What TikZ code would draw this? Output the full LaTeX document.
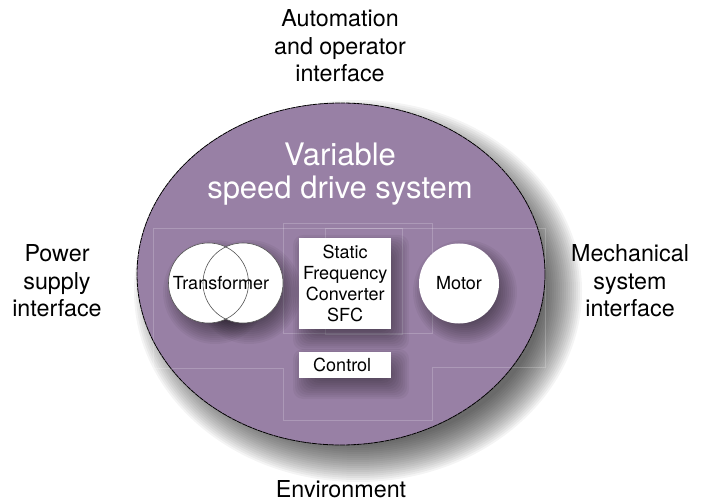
\documentclass[tikz,border=0pt]{standalone}
\usepackage{fontspec}
\setmainfont{TeX Gyre Heros}
\definecolor{sysfill}{HTML}{9880A5}
\definecolor{edgegray}{HTML}{555555}
\begin{document}
\begin{tikzpicture}[x=1pt,y=-1pt,
  lbl/.style={font=\fontsize{23.3}{27.5}\selectfont, align=center, inner sep=0pt},
  titletext/.style={font=\fontsize{31}{33}\selectfont, align=center, text=white, inner sep=0pt},
  smalltext/.style={font=\fontsize{18}{21}\selectfont, align=center, inner sep=0pt},
  faint/.style={draw=white, draw opacity=0.2, line width=0.6pt},
  shadowfill/.style={fill=black, opacity=0.045},
  roundshape/.style={circle, fill=white, minimum size=80pt, inner sep=0pt},
  boxshape/.style={rectangle, fill=white, inner sep=0pt, anchor=north west},
]
\useasboundingbox (0,0) rectangle (703,502);

% shadow of the system ellipse
\foreach \i in {0,...,19}
  \fill[shadowfill] (358,291) ellipse [x radius={224-2*\i}, y radius={191-2*\i}];
% system ellipse
\fill[sysfill] (341,274) ellipse [x radius=204, y radius=171];

% faint frame lines
\draw[faint] (153,228) -- (545,228) -- (545,367) -- (432,367) -- (432,420)
  -- (283,420) -- (283,368) -- (153,368) -- cycle;
\draw[faint] (283,223) rectangle (432,333);
\draw[faint] (325,228) rectangle (402,334);

% shadows of the inner shapes
\foreach \s in {12,10,...,-10} {
  \fill[shadowfill, rounded corners=10pt] ({305-\s},{247-\s}) rectangle ({397+\s},{338+\s});
  \fill[shadowfill, rounded corners=10pt] ({305-\s},{361-\s}) rectangle ({397+\s},{387+\s});
}
\foreach \i in {0,...,11} {
  \fill[shadowfill] (215,292) circle ({52-2*\i});
  \fill[shadowfill] (249,292) circle ({52-2*\i});
  \fill[shadowfill] (465,292) circle ({52-2*\i});
}

\draw[black, line width=0.8pt, dash pattern=on 5pt off 0.6pt] (341,274) ellipse [x radius=204, y radius=171];

% transformer
\node[roundshape] (t1) at (208.5,283) {};
\node[roundshape] (t2) at (243,283) {};
\draw[edgegray, line width=0.6pt] (t1.center) circle (40);
\draw[edgegray, line width=0.6pt] (t2.center) circle (40);
\node[smalltext] (trafo) at (221,283) {Transformer};

% motor
\node[roundshape] (motor) at (459,283.5) {};
\node[smalltext] (motortext) at (motor.center) {Motor};

% SFC and control
\node[boxshape, minimum width=92pt, minimum height=91pt] (sfcbox) at (299,238) {};
\node[smalltext] (sfc) at (sfcbox.center) {Static\\Frequency\\Converter\\SFC};
\node[boxshape, minimum width=92pt, minimum height=26pt] (ctrlbox) at (299,352) {};
\node[smalltext] (ctrl) at ([xshift=-3pt]ctrlbox.center) {Control};

% title
\node[titletext] (title) at (340,174) {Variable\\speed drive system};

% outer labels
\node[lbl] (auto) at (340,46) {Automation\\and operator\\interface};
\node[lbl] (power) at (57,281) {Power\\supply\\interface};
\node[lbl] (mech) at (630,281) {Mechanical\\system\\interface};
\node[lbl, anchor=base] (env) at (341,497) {Environment};
\end{tikzpicture}
\end{document}
